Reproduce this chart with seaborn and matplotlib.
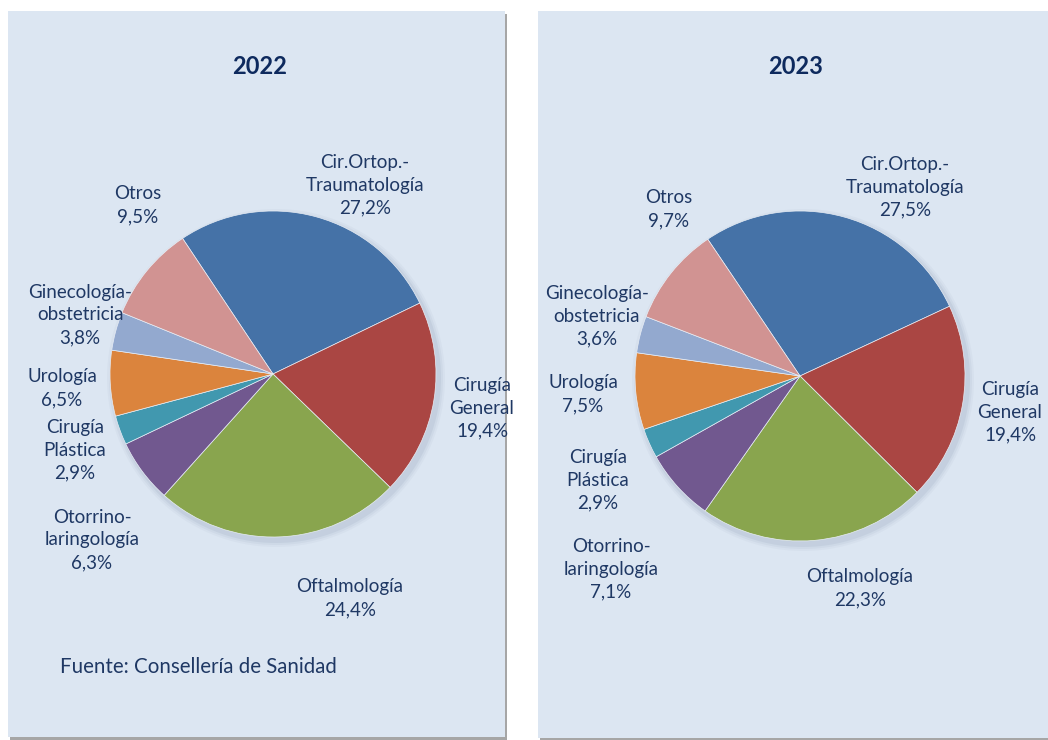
import matplotlib
matplotlib.use("Agg")
import matplotlib.pyplot as plt
from matplotlib.patches import Rectangle, Circle
import seaborn as sns

# ------- DATA ---------

categories = ["Cir.Ortop.-\nTraumatología", "Cirugía\nGeneral", "Oftalmología",
              "Otorrino-\nlaringología", "Cirugía\nPlástica", "Urología",
              "Ginecología-\nobstetricia", "Otros"]
share_2022 = [27.2, 19.4, 24.4, 6.3, 2.9, 6.5, 3.8, 9.5]
share_2023 = [27.5, 19.4, 22.3, 7.1, 2.9, 7.5, 3.6, 9.7]
years = ["2022", "2023"]
source = "Fuente: Consellería de Sanidad"

colors = ["#4572A7", "#AA4643", "#89A54E", "#71588F",
          "#4198AF", "#DB843D", "#93A9CF", "#D19392"]

# ------- STYLE ---------

sns.set_theme(style="white")
plt.rcParams['font.family'] = ['Lato', 'DejaVu Sans']
TXT = "#1F3864"
TITLE = "#0E2A5E"
BG = "#DCE6F2"

W, H = 1048, 740
fig = plt.figure(figsize=(W / 100, H / 100), dpi=100)
fig.patch.set_facecolor("white")
ax = fig.add_axes([0, 0, 1, 1])

# panels (pixel boxes: x0, top, x1, bottom)
panels = [(8, 11, 505, 737), (538, 11, 1048, 738)]
for x0, top, x1, bot in panels:
    ax.add_patch(Rectangle((x0 + 2, H - bot - 3), x1 - x0, bot - top,
                           facecolor="#A6A6A6", edgecolor="none", zorder=0))
    ax.add_patch(Rectangle((x0, H - bot), x1 - x0, bot - top,
                           facecolor=BG, edgecolor="none", zorder=1))

# pies: center in pixels, radius, start angle
pies = [
    dict(year=years[0], vals=share_2022, cx=273, cy=374, r=163, start=123.7,
         title_x=260,
         lab_pos=[(365, 185), (482, 408), (350, 598), (92, 540),
                  (75, 450), (62, 388), (80, 315), (138, 205)]),
    dict(year=years[1], vals=share_2023, cx=800, cy=376, r=165, start=124.0,
         title_x=796,
         lab_pos=[(905, 187), (1010, 412), (860, 588), (611, 569),
                  (598, 480), (583, 394), (597, 316), (669, 209)]),
]

for p in pies:
    cx, cy = p["cx"], H - p["cy"]
    # soft shadow
    for k, a in [(6, 0.05), (4, 0.07), (2, 0.10)]:
        ax.add_patch(Circle((cx + 3, cy - 4), p["r"] + k, facecolor="#6E7F99",
                            edgecolor="none", alpha=a, zorder=2))
    wedges, _ = ax.pie(p["vals"], colors=colors, startangle=p["start"],
                       counterclock=False, center=(cx, cy), radius=p["r"],
                       wedgeprops=dict(linewidth=0.5, edgecolor="#E8EEF6"),
                       frame=True)
    for w in wedges:
        w.set_zorder(3)
    ax.text(p["title_x"], H - 66, p["year"], ha="center", va="center",
            fontsize=17, fontweight="bold", color=TITLE, zorder=5)
    for name, v, (lx, ly) in zip(categories, p["vals"], p["lab_pos"]):
        label = f"{name}\n{v:.1f}%".replace(".", ",")
        label = label.replace("Cir,Ortop,-", "Cir.Ortop.-")
        ax.text(lx, H - ly, label, ha="center", va="center", fontsize=13.5,
                color=TXT, linespacing=1.42, zorder=5)

ax.set_xlim(0, W)
ax.set_ylim(0, H)
ax.set_aspect("equal")
ax.axis("off")

ax.text(60, H - 667, source, ha="left", va="center", fontsize=14.8,
        color=TXT, zorder=5)

fig.savefig("out.png", dpi=100, facecolor="white")
